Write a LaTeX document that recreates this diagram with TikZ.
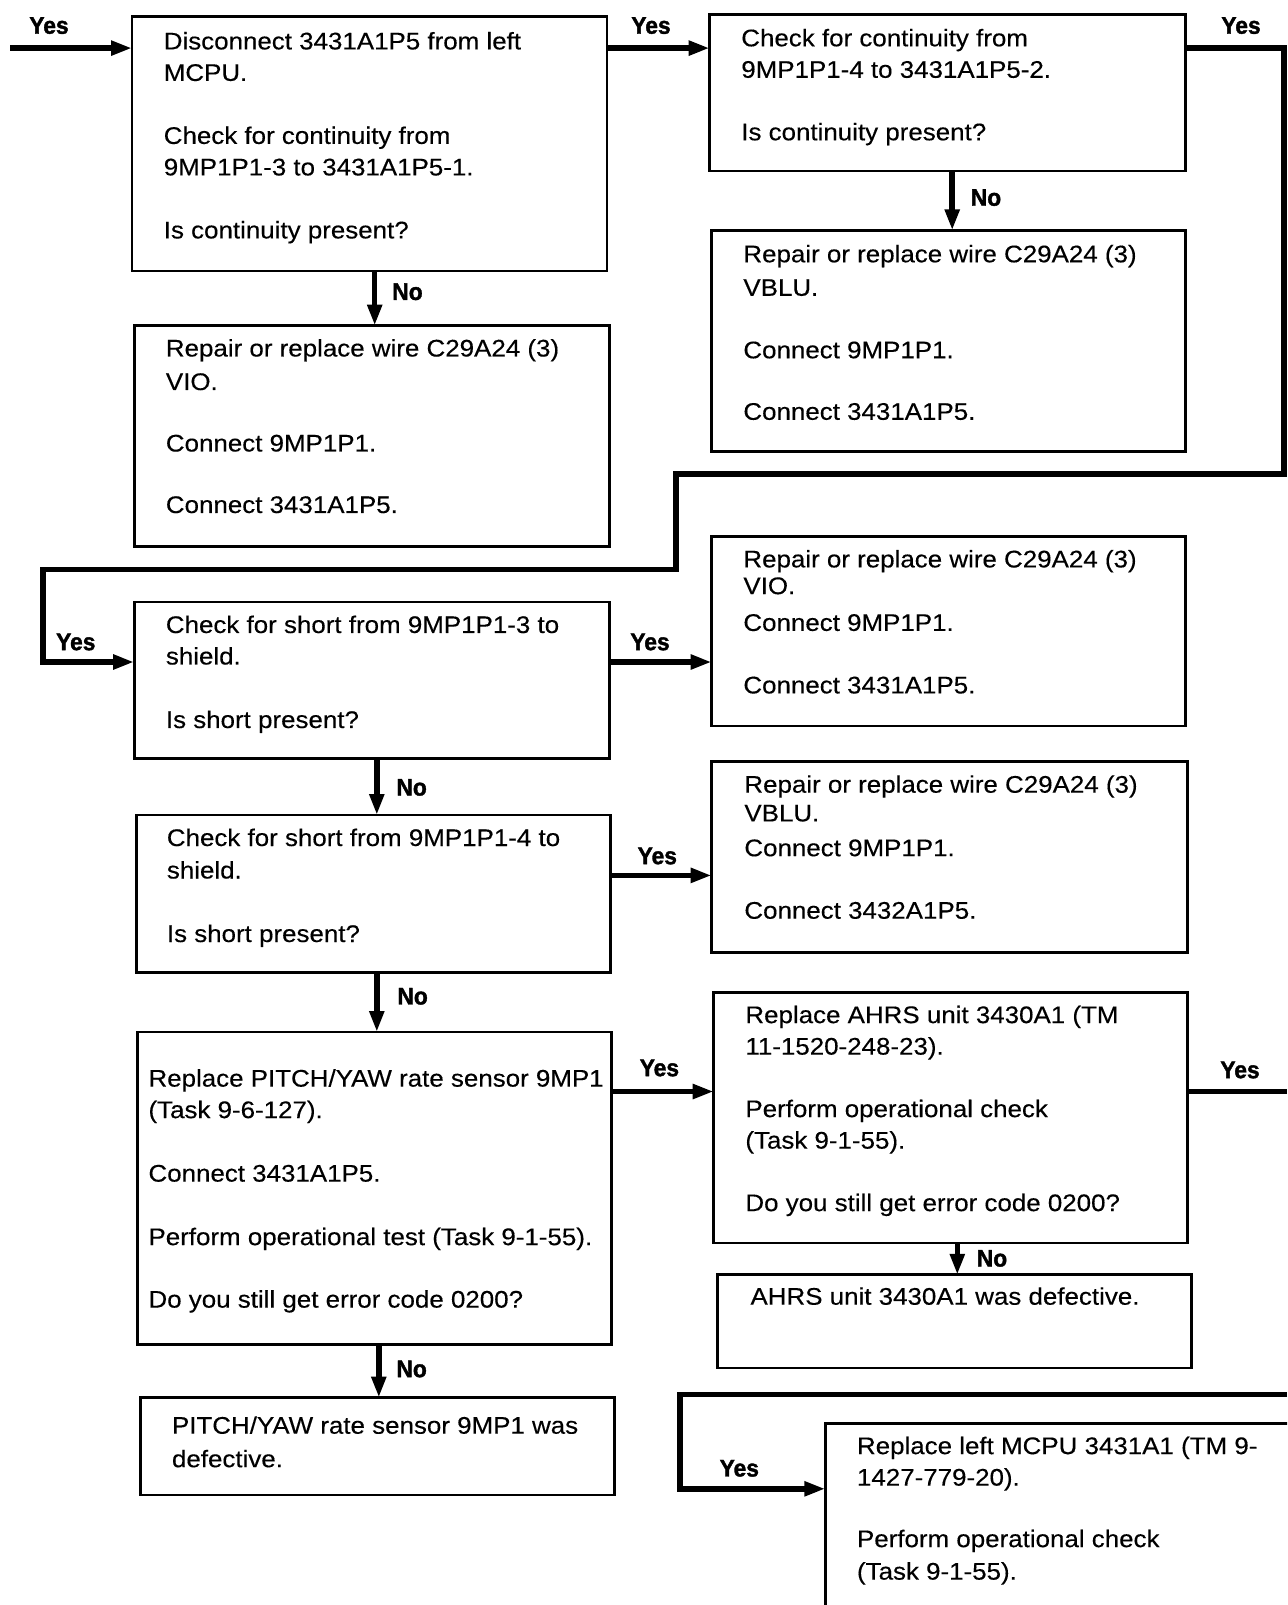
\documentclass[tikz,border=0pt]{standalone}
\usepackage{fontspec}
\setmainfont{Liberation Sans}[FakeStretch=1.08, FakeBold=0.3]
\newfontfamily\lblfont{Liberation Sans}[FakeStretch=0.95, BoldFeatures={FakeBold=1.5}]
\usetikzlibrary{arrows.meta}
\begin{document}
\begin{tikzpicture}[x=1pt,y=-1pt,
  box/.style={draw, line width=2.8pt, rectangle, inner sep=0pt, outer sep=0pt, anchor=north west},
  txt/.style={anchor=north west, inner sep=0pt, outer sep=0pt, align=left, font=\fontsize{24}{31.5}\selectfont},
  conn/.style={line width=5.5pt},
  arr/.style={conn, -{Triangle[length=21pt,width=14pt]}},
  lbl/.style={inner sep=0pt, font=\lblfont\bfseries\fontsize{24}{24}\selectfont}]
\useasboundingbox (0,0) rectangle (1287,1605);
\clip (0,0) rectangle (1287,1605);

% boxes
\node[box, minimum width=475pt,   minimum height=254.6pt] (b1)  at (132,16.4) {};
\node[box, minimum width=476.1pt, minimum height=156.7pt] (b2)  at (709.6,14.3) {};
\node[box, minimum width=474.1pt, minimum height=221.1pt] (b3)  at (711.6,230.4) {};
\node[box, minimum width=475.1pt, minimum height=221.2pt] (c1)  at (134.1,325.6) {};
\node[box, minimum width=475.1pt, minimum height=156.7pt] (b4)  at (134.1,602) {};
\node[box, minimum width=474.1pt, minimum height=189.5pt] (b5)  at (711.6,536.5) {};
\node[box, minimum width=474pt,   minimum height=157.7pt] (b6)  at (136.2,815) {};
\node[box, minimum width=476.1pt, minimum height=190.4pt] (b7)  at (711.6,761.8) {};
\node[box, minimum width=474.1pt, minimum height=312.4pt] (b8)  at (137.2,1032) {};
\node[box, minimum width=474pt,   minimum height=250.8pt] (b9)  at (713.7,992.2) {};
\node[box, minimum width=474pt,   minimum height=93.2pt]  (b10) at (717.8,1274.8) {};
\node[box, minimum width=474pt,   minimum height=97.3pt]  (b11) at (140.3,1397.6) {};
\node[box, minimum width=520pt,   minimum height=260pt]   (b12) at (825.3,1423.2) {};

% texts
\node[txt] (t1) at (163.8,32) {Disconnect 3431A1P5 from left\\MCPU.\\[31.5pt]Check for continuity from\\9MP1P1-3 to 3431A1P5-1.\\[31.5pt]Is continuity present?};
\node[txt] (t2) at (741.3,28.9) {Check for continuity from\\9MP1P1-4 to 3431A1P5-2.\\[31pt]Is continuity present?};
\node[txt] (t3) at (743.4,244.9) {Repair or replace wire C29A24 (3)\\[2pt]VBLU.\\[31pt]Connect 9MP1P1.\\[30pt]Connect 3431A1P5.};
\node[txt] (tc1) at (165.9,339.1) {Repair or replace wire C29A24 (3)\\[2pt]VIO.\\[30pt]Connect 9MP1P1.\\[30pt]Connect 3431A1P5.};
\node[txt] (t4) at (165.9,615.6) {Check for short from 9MP1P1-3 to\\shield.\\[32pt]Is short present?};
\node[txt] (t5) at (743.4,550) {Repair or replace wire C29A24 (3)\\[-4.8pt]VIO.\\[5.3pt]Connect 9MP1P1.\\[31pt]Connect 3431A1P5.};
\node[txt] (t6) at (166.9,828.6) {Check for short from 9MP1P1-4 to\\[1pt]shield.\\[32pt]Is short present?};
\node[txt] (t7) at (744.4,775.3) {Repair or replace wire C29A24 (3)\\[-2.8pt]VBLU.\\[3.3pt]Connect 9MP1P1.\\[31pt]Connect 3432A1P5.};
\node[txt] (t8) at (148.5,1069.2) {Replace PITCH/YAW rate sensor 9MP1\\(Task 9-6-127).\\[32pt]Connect 3431A1P5.\\[32pt]Perform operational test (Task 9-1-55).\\[31pt]Do you still get error code 0200?};
\node[txt] (t9) at (745.4,1005.7) {Replace AHRS unit 3430A1 (TM\\11-1520-248-23).\\[31pt]Perform operational check\\(Task 9-1-55).\\[31pt]Do you still get error code 0200?};
\node[txt] (t10) at (750.5,1287.3) {AHRS unit 3430A1 was defective.};
\node[txt] (t11) at (172,1416.3) {PITCH/YAW rate sensor 9MP1 was\\[2pt]defective.};
\node[txt] (t12) at (857,1436.7) {Replace left MCPU 3431A1 (TM 9-\\1427-779-20).\\[30pt]Perform operational check\\[1pt](Task 9-1-55).};

% helper coordinates
\coordinate (e0) at (10,48.1);
\coordinate (ys1) at (0,662);
\coordinate (ys2) at (0,875.4);
\coordinate (ys3) at (0,1091.5);
\coordinate (rt3) at (1287,1091.5);
\coordinate (bt0) at (1287,1394.6);
\coordinate (yb2) at (0,1488.8);
\coordinate (xa) at (374.7,0);
\coordinate (xb) at (952.2,0);
\coordinate (xc) at (376.8,0);
\coordinate (xd) at (378.8,0);
\coordinate (xe) at (957.3,0);

% connectors
\draw[arr] (e0) -- (e0 -| b1.west);
\draw[arr] (b1.east |- e0) -- (b2.west |- e0);
\draw[arr] (b2.east |- e0) -- (1284,48.1) -- (1284,474) -- (675.8,474) -- (675.8,569.3)
  -- (43,569.3) -- (43,662) -- (b4.west |- ys1);
\draw[arr] (b2.south -| xb) -- (b3.north -| xb);
\draw[arr] (b1.south -| xa) -- (c1.north -| xa);
\draw[arr] (b4.east |- ys1) -- (b5.west |- ys1);
\draw[arr] (b4.south -| xc) -- (b6.north -| xc);
\draw[arr] (b6.east |- ys2) -- (b7.west |- ys2);
\draw[arr] (b6.south -| xc) -- (b8.north -| xc);
\draw[arr] (b8.east |- ys3) -- (b9.west |- ys3);
\draw[conn] (b9.east |- ys3) -- (rt3);
\draw[arr] (b9.south -| xe) -- (b10.north -| xe);
\draw[arr] (b8.south -| xd) -- (b11.north -| xd);
\draw[arr] (bt0) -- (679.9,1394.6) -- (679.9,1488.8) -- (b12.west |- yb2);

% labels
\node[lbl] (l1)  at (49,25.6) {Yes};
\node[lbl] (l2)  at (651,25.6) {Yes};
\node[lbl] (l3)  at (1241,25.6) {Yes};
\node[lbl] (l4)  at (986,197.6) {No};
\node[lbl] (l5)  at (407.5,291.8) {No};
\node[lbl] (l6)  at (75.8,642) {Yes};
\node[lbl] (l7)  at (650,642) {Yes};
\node[lbl] (l8)  at (411.6,787.4) {No};
\node[lbl] (l9)  at (657.3,856) {Yes};
\node[lbl] (l10) at (412.6,996.3) {No};
\node[lbl] (l11) at (659.4,1068) {Yes};
\node[lbl] (l12) at (1240,1070) {Yes};
\node[lbl] (l13) at (992,1258.4) {No};
\node[lbl] (l14) at (411.6,1369) {No};
\node[lbl] (l15) at (739.3,1468.3) {Yes};
\end{tikzpicture}
\end{document}
